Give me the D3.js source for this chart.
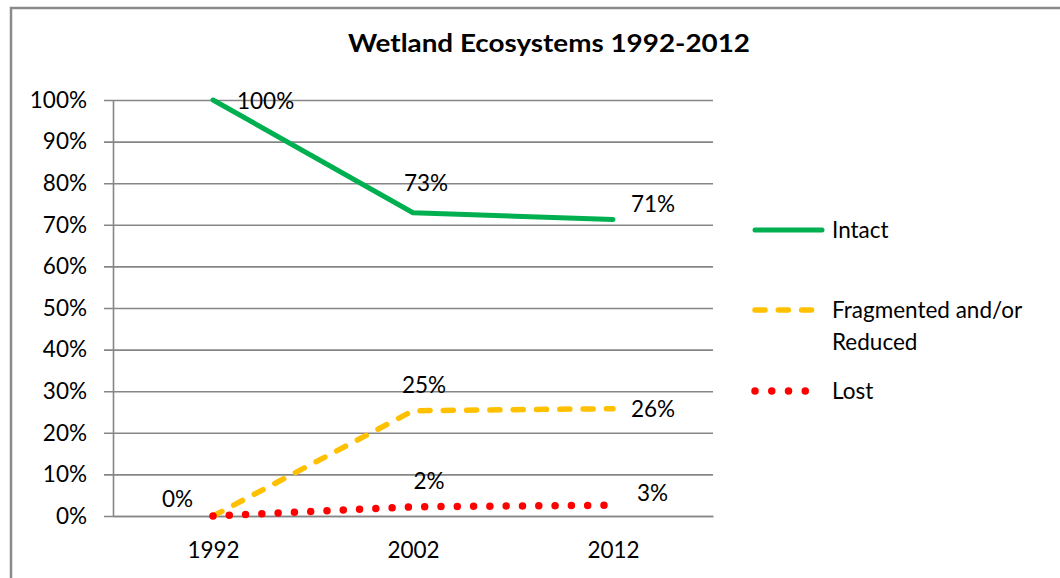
<!DOCTYPE html>
<html>
<head>
<meta charset="utf-8">
<script src="https://cdn.jsdelivr.net/npm/d3@7"></script>
<style>
  body { margin: 0; background: #fff; }
  text { font-family: Lato, "Open Sans", sans-serif; fill: #000; }
</style>
</head>
<body>
<svg id="chart" width="1060" height="578"></svg>
<script>
// values (percent)
const years = ["1992", "2002", "2012"]
const intact = [100, 72.9, 71.3]
const fragmented = [0, 25.3, 25.8]
const lost = [0, 2.2, 2.6]
const seriesNames = ["Intact", "Fragmented and/or Reduced", "Lost"]
const yTicks = [0, 10, 20, 30, 40, 50, 60, 70, 80, 90, 100]

// where each data label sits relative to its point: [dx, dy, anchor], null = hidden
const labelPos = [
  [[24, 9, "start"], [13, -22, "middle"], [18, -7, "start"]],
  [[-51, -9, "start"], [11, -18, "middle"], [18, 8, "start"]],
  [null, [16, -18, "middle"], [24, -4, "start"]]
]

const svg = d3.select("#chart")
const plot = {left: 113, right: 713, top: 100, bottom: 516}
const fontSize = "22.5px"

const x = d3.scalePoint().domain(years).range([plot.left, plot.right]).padding(0.5)
const y = d3.scaleLinear().domain([0, 100]).range([plot.bottom, plot.top])

// outer chart frame (runs off the right and bottom edges)
svg.append("rect")
  .attr("x", 11).attr("y", 8)
  .attr("width", 1100).attr("height", 620)
  .attr("fill", "none")
  .attr("stroke", "#8a8a8a")
  .attr("stroke-width", 2.5)

svg.append("text")
  .attr("x", 549).attr("y", 52)
  .attr("text-anchor", "middle")
  .attr("textLength", 402)
  .attr("lengthAdjust", "spacingAndGlyphs")
  .style("font-size", "25px")
  .style("font-weight", "bold")
  .text("Wetland Ecosystems 1992-2012")

// gridlines incl. the little tick stubs left of the axis
let grid = svg.append("g")
  .attr("transform", `translate(${plot.left - 9},0)`)
  .call(d3.axisLeft(y).tickValues(yTicks).tickSize(-(plot.right - plot.left + 9)).tickFormat(""))
grid.select(".domain").remove()
grid.selectAll("line").attr("stroke", "#868686").attr("stroke-width", 1.6)

let yAxis = svg.append("g")
  .attr("transform", `translate(${plot.left},0)`)
  .call(d3.axisLeft(y).tickValues(yTicks).tickSize(0).tickSizeOuter(0).tickPadding(26).tickFormat(d => d + "%"))
yAxis.select(".domain").attr("stroke", "#868686").attr("stroke-width", 1.6)
yAxis.selectAll("text").style("font-size", fontSize).attr("font-family", null)

let xAxis = svg.append("g")
  .attr("transform", `translate(0,${plot.bottom})`)
  .call(d3.axisBottom(x).tickSize(0).tickSizeOuter(0).tickPadding(26))
xAxis.select(".domain").attr("stroke", "#868686").attr("stroke-width", 1.6)
xAxis.selectAll("text").style("font-size", fontSize).attr("font-family", null)

const styles = [
  {color: "#00B050", width: 5, dash: null, cap: "round"},
  {color: "#FFC000", width: 5.5, dash: "10 13.3", cap: "round"},
  {color: "#FF0000", width: 7.5, dash: "0 16.3", cap: "round"}
]
const allSeries = [intact, fragmented, lost]

const line = d3.line()
  .x((d, i) => x(years[i]))
  .y(d => y(d))

allSeries.forEach((vals, s) => {
  let st = styles[s]
  svg.append("path")
    .datum(vals)
    .attr("d", line)
    .attr("fill", "none")
    .attr("stroke", st.color)
    .attr("stroke-width", st.width)
    .attr("stroke-linecap", st.cap)
    .attr("stroke-linejoin", "round")
    .attr("stroke-dasharray", st.dash)
})

// data labels
allSeries.forEach((vals, s) => {
  vals.forEach((v, i) => {
    let p = labelPos[s][i]
    if (!p) return
    svg.append("text")
      .attr("x", x(years[i]) + p[0])
      .attr("y", y(v) + p[1])
      .attr("text-anchor", p[2])
      .style("font-size", fontSize)
      .text(Math.round(v) + "%")
  })
})

// legend
const legendRows = [
  {y: 230, lines: ["Intact"]},
  {y: 310, lines: ["Fragmented and/or", "Reduced"]},
  {y: 391, lines: ["Lost"]}
]
const legend = svg.append("g")
legendRows.forEach((r, s) => {
  let st = styles[s]
  legend.append("line")
    .attr("x1", 755).attr("x2", s == 1 ? 820 : 822)
    .attr("y1", r.y).attr("y2", r.y)
    .attr("stroke", st.color)
    .attr("stroke-width", st.width)
    .attr("stroke-linecap", st.cap)
    .attr("stroke-dasharray", s == 2 ? "0 16.75" : st.dash)
  let t = legend.append("text")
    .attr("x", 832).attr("y", r.y + 8)
    .style("font-size", fontSize)
  r.lines.forEach((l, k) => {
    t.append("tspan").attr("x", 832).attr("dy", k == 0 ? 0 : 32).text(l)
  })
})
</script>
</body>
</html>
